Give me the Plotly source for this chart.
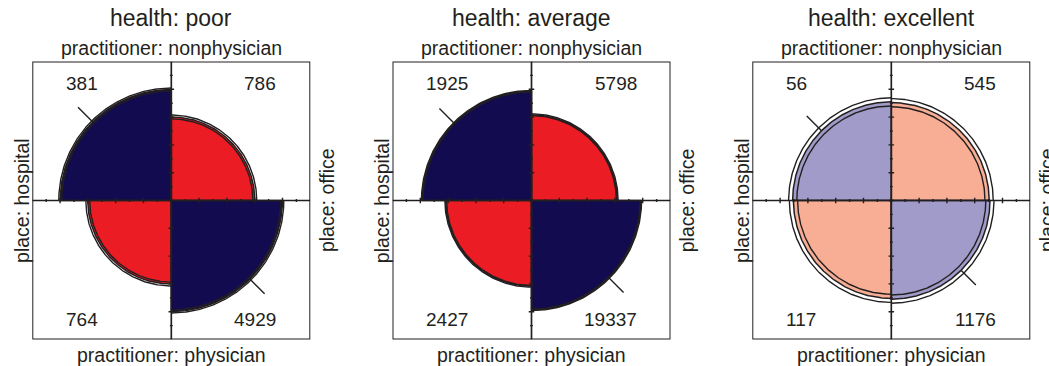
import numpy as np
import plotly.graph_objects as go

# Physician visits by health status: place (hospital / office) x practitioner
health = ["poor", "average", "excellent"]
place_levels = ["hospital", "office"]
practitioner_levels = ["nonphysician", "physician"]

hospital_nonphysician = [381, 1925, 56]
office_nonphysician = [786, 5798, 545]
hospital_physician = [764, 2427, 117]
office_physician = [4929, 19337, 1176]

conf_level = 0.95
tick_len = 0.15

INK = "#231F20"
DARK = {"pos": "#120B50", "neg": "#EC1C24"}
LIGHT = {"pos": "#A09BC8", "neg": "#F7AE94"}

W, H = 1049, 366
half_px = 139.0
centers_x = [171.3, 531.5, 891.3]
center_y = 200.5

fig = go.Figure()
z = 1.959963984540054


def arc(r, a0, a1, n=180):
    t = np.radians(np.linspace(a0, a1, n))
    return r * np.cos(t), r * np.sin(t)


def std_fit(odds_ratio):
    # standardize to equal row and column margins, keeping the odds ratio
    s = np.sqrt(odds_ratio)
    return s / (1 + s)


layout_axes = {}
annotations = []
shapes = []

for k, h in enumerate(health):
    xa = "x" if k == 0 else f"x{k + 1}"
    ya = "y" if k == 0 else f"y{k + 1}"
    xkey = "xaxis" if k == 0 else f"xaxis{k + 1}"
    ykey = "yaxis" if k == 0 else f"yaxis{k + 1}"
    cx = centers_x[k]
    layout_axes[xkey] = dict(range=[-1, 1], domain=[(cx - half_px) / W, (cx + half_px) / W],
                             visible=False, anchor=ya, fixedrange=True)
    layout_axes[ykey] = dict(range=[-1, 1],
                             domain=[1 - (center_y + half_px) / H, 1 - (center_y - half_px) / H],
                             visible=False, anchor=xa, fixedrange=True)

    a = hospital_nonphysician[k]   # top-left
    b = office_nonphysician[k]     # top-right
    c = hospital_physician[k]      # bottom-left
    d = office_physician[k]        # bottom-right
    odds_ratio = (a * d) / (b * c)
    log_or = np.log(odds_ratio)
    se = np.sqrt(1 / a + 1 / b + 1 / c + 1 / d)
    ci = np.exp([log_or - z * se, log_or + z * se])
    significant = ci[0] > 1 or ci[1] < 1
    pal = DARK if significant else LIGHT
    u = std_fit(odds_ratio)

    diag_col = pal["pos"] if odds_ratio > 1 else pal["neg"]
    off_col = pal["neg"] if odds_ratio > 1 else pal["pos"]

    # quadrant: (fit, start angle, end angle, colour, count, is diagonal)
    quads = [
        (1 - u, 0, 90, off_col, b, False),
        (u, 90, 180, diag_col, a, True),
        (1 - u, 180, 270, off_col, c, False),
        (u, 270, 360, diag_col, d, True),
    ]
    for fit, a0, a1, col, cnt, diag in quads:
        r = np.sqrt(fit)
        px_, py_ = arc(r, a0, a1)
        xs = np.concatenate([[0], px_, [0]])
        ys = np.concatenate([[0], py_, [0]])
        fig.add_trace(go.Scatter(x=xs, y=ys, mode="lines", fill="toself", fillcolor=col,
                                 line=dict(color=INK, width=1.5), xaxis=xa, yaxis=ya,
                                 hoverinfo="skip", showlegend=False))

    # confidence rings for the odds ratio
    rx, ry = [], []
    for bound in ci:
        ub = std_fit(bound)
        for fit, a0, a1 in [(1 - ub, 0, 90), (ub, 90, 180), (1 - ub, 180, 270), (ub, 270, 360)]:
            px_, py_ = arc(np.sqrt(fit), a0, a1)
            rx += list(px_) + [None]
            ry += list(py_) + [None]
    fig.add_trace(go.Scatter(x=rx, y=ry, mode="lines", line=dict(color=INK, width=1.4),
                             xaxis=xa, yaxis=ya, hoverinfo="skip", showlegend=False))

    # direction-of-association ticks on the larger cells
    tx, ty = [], []
    for fit, a0, a1, col, cnt, diag in quads:
        if diag == (odds_ratio > 1):
            r = np.sqrt(fit)
            ang = np.radians((a0 + a1) / 2)
            tx += [r * np.cos(ang), (r + tick_len) * np.cos(ang), None]
            ty += [r * np.sin(ang), (r + tick_len) * np.sin(ang), None]

    # axis tick marks
    for j in np.arange(-0.8, 0.81, 0.2):
        tx += [j, j, None, -0.02, 0.02, None]
        ty += [-0.02, 0.02, None, j, j, None]
    for j in np.arange(-0.9, 0.91, 0.2):
        tx += [j, j, None, -0.01, 0.01, None]
        ty += [-0.01, 0.01, None, j, j, None]
    fig.add_trace(go.Scatter(x=tx, y=ty, mode="lines", line=dict(color=INK, width=1.4),
                             xaxis=xa, yaxis=ya, hoverinfo="skip", showlegend=False))

    # frame and centre axes
    shapes.append(dict(type="rect", xref=xa, yref=ya, x0=-1, x1=1, y0=-1, y1=1,
                       line=dict(color=INK, width=2), layer="above"))
    shapes.append(dict(type="line", xref=xa, yref=ya, x0=-1, x1=1, y0=0, y1=0,
                       line=dict(color=INK, width=1.7), layer="above"))
    shapes.append(dict(type="line", xref=xa, yref=ya, x0=0, x1=0, y0=-1, y1=1,
                       line=dict(color=INK, width=1.7), layer="above"))

    def ann(x, y, text, size, xanchor="center", angle=0):
        # positions given in panel units (-1..1), placed via the axis domain
        annotations.append(dict(x=(x + 1) / 2, y=(y + 1) / 2,
                                xref=f"{xa} domain", yref=f"{ya} domain",
                                text=text, showarrow=False,
                                xanchor=xanchor, yanchor="middle", textangle=angle,
                                font=dict(family="Liberation Sans, Arial", size=size, color=INK)))

    ann(0, 1.313, f"health: {h}", 23)
    ann(0, 1.094, f"practitioner: {practitioner_levels[0]}", 19.5)
    ann(0, -1.112, f"practitioner: {practitioner_levels[1]}", 19.5)
    ann(-1.078, 0, f"place: {place_levels[0]}", 19.5, angle=-90)
    ann(1.117, 0, f"place: {place_levels[1]}", 19.5, angle=-90)
    ann(-0.775, 0.843, str(a), 19, xanchor="left")
    ann(0.77, 0.843, str(b), 19, xanchor="right")
    ann(-0.775, -0.856, str(c), 19, xanchor="left")
    ann(0.77, -0.856, str(d), 19, xanchor="right")

fig.update_layout(width=W, height=H, margin=dict(l=0, r=0, t=0, b=0),
                  paper_bgcolor="white", plot_bgcolor="white",
                  annotations=annotations, shapes=shapes, **layout_axes)
fig.write_html("out.html")
